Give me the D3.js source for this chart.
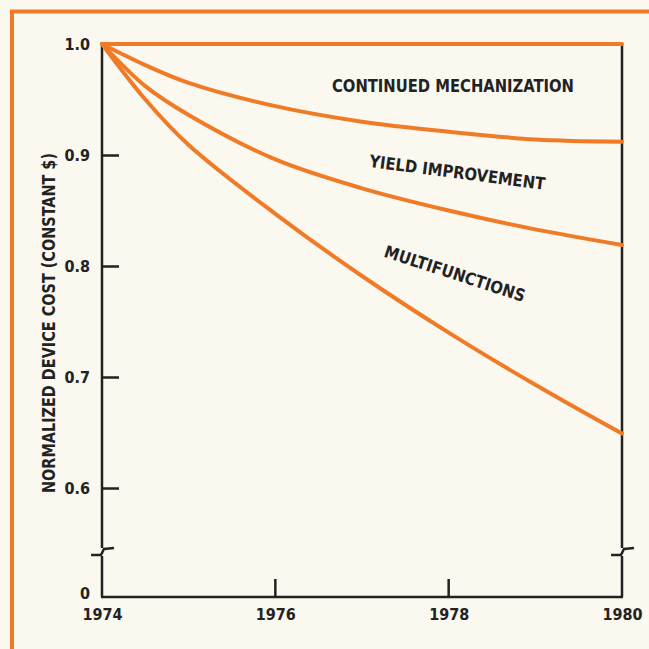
<!DOCTYPE html>
<meta charset="utf-8">
<style>
    body { margin: 0; background: #faf8ef; }
    text {
        font-family: "Liberation Sans Narrow", "DejaVu Sans Condensed", "Arial Narrow", sans-serif;
        font-weight: bold;
        fill: #222;
    }
    .curve { fill: none; stroke: #f07b27; stroke-width: 4px; stroke-linecap: round; }
    .ax { fill: none; stroke: #222; stroke-width: 2.5px; }
</style>
<svg width="649" height="649"></svg>
<script src="https://d3js.org/d3.v7.min.js"></script>
<script>

// values
var years = [1974, 1974.5, 1975, 1976, 1977, 1978, 1979, 1980];
var noChange       = [1.0, 1.0, 1.0, 1.0, 1.0, 1.0, 1.0, 1.0];
var mechanization  = [1.0, 0.981, 0.965, 0.944, 0.930, 0.921, 0.914, 0.912];
var yieldImprove   = [1.0, 0.962, 0.936, 0.896, 0.870, 0.850, 0.833, 0.819];
var multifunctions = [1.0, 0.950, 0.909, 0.847, 0.791, 0.740, 0.693, 0.649];

var xTicks = [1974, 1976, 1978, 1980];
var yTicks = [0.6, 0.7, 0.8, 0.9, 1.0];

var labelText  = ["CONTINUED MECHANIZATION", "YIELD IMPROVEMENT", "MULTIFUNCTIONS"];
var labelYear  = [1978.05, 1978.09, 1978.05];
var labelValue = [0.957, 0.879, 0.788];
var labelAngle = [0, 7.5, 18];
var labelWidth = [242, 177, 147];

var svg = d3.select("svg"),
    width = +svg.attr("width"),
    height = +svg.attr("height");

svg.append("rect")
    .attr("width", width)
    .attr("height", height)
    .attr("fill", "#faf8ef");

// orange frame, runs off the right and bottom edges
svg.append("rect")
    .attr("x", 12).attr("y", 11.5)
    .attr("width", 720).attr("height", 720)
    .attr("fill", "none")
    .attr("stroke", "#f07b27")
    .attr("stroke-width", 4);

var x = d3.scaleLinear().domain([1974, 1980]).range([102, 622]);
var y = d3.scaleLinear().domain([0.6, 1.0]).range([488, 44]);
var yZero = 597, yBreak = 552;

// axes (ticks only, lines drawn by hand for the breaks)
var yAxis = svg.append("g")
    .attr("transform", "translate(" + x(1974) + ",0)")
    .call(d3.axisLeft(y).tickValues(yTicks).tickSize(-17).tickPadding(12)
        .tickFormat(d3.format(".1f")));
yAxis.select(".domain").remove();
yAxis.selectAll("line").attr("stroke", "#222").attr("stroke-width", 2.5);
yAxis.selectAll("text").attr("font-size", 16).attr("dy", "0.36em").attr("fill", "#222");

var xAxis = svg.append("g")
    .attr("transform", "translate(0," + yZero + ")")
    .call(d3.axisBottom(x).tickValues(xTicks).tickSize(0).tickPadding(12)
        .tickFormat(d3.format("d")));
xAxis.select(".domain").remove();
xAxis.selectAll("text").attr("font-size", 16).attr("fill", "#222");

// inner x ticks (pointing up) only at the middle years
svg.append("g").selectAll("line")
    .data(xTicks.slice(1, 3))
    .enter().append("line")
    .attr("class", "ax")
    .attr("x1", function(d) { return x(d); })
    .attr("x2", function(d) { return x(d); })
    .attr("y1", yZero)
    .attr("y2", yZero - 18);

svg.append("text")
    .attr("x", x(1974) - 12)
    .attr("y", yZero - 4)
    .attr("dy", "0.36em")
    .attr("text-anchor", "end")
    .attr("font-size", 16)
    .text("0");

function brokenAxis(px) {
    svg.append("path").attr("class", "ax")
        .attr("d", "M" + px + "," + y(1.0) + "V" + (yBreak - 4));
    svg.append("path").attr("class", "ax")
        .attr("d", "M" + px + "," + (yBreak + 4) + "V" + yZero);
    svg.append("path").attr("class", "ax")
        .attr("stroke-width", 2.2)
        .attr("d", "M" + (px - 11) + "," + (yBreak + 3) +
                   "L" + (px - 1) + "," + (yBreak + 3) +
                   "L" + (px + 2) + "," + (yBreak - 3) +
                   "L" + (px + 12) + "," + (yBreak - 4));
}
brokenAxis(x(1974));
brokenAxis(x(1980));

svg.append("path").attr("class", "ax")
    .attr("d", "M" + (x(1974) - 1) + "," + yZero + "H" + (x(1980) + 1));

// curves
var line = d3.line()
    .x(function(d, i) { return x(years[i]); })
    .y(function(d) { return y(d); })
    .curve(d3.curveCatmullRom.alpha(0.5));

[noChange, mechanization, yieldImprove, multifunctions].forEach(function(s) {
    svg.append("path").attr("class", "curve").attr("d", line(s));
});

// curve labels
labelText.forEach(function(t, i) {
    var px = x(labelYear[i]), py = y(labelValue[i]);
    svg.append("text")
        .attr("transform", "translate(" + px + "," + py + ") rotate(" + labelAngle[i] + ")")
        .attr("text-anchor", "middle")
        .attr("font-size", 17)
        .attr("textLength", labelWidth[i])
        .attr("lengthAdjust", "spacingAndGlyphs")
        .text(t);
});

// y title
svg.append("text")
    .attr("transform", "translate(55,323) rotate(-90)")
    .attr("text-anchor", "middle")
    .attr("font-size", 17)
    .attr("textLength", 340)
    .attr("lengthAdjust", "spacingAndGlyphs")
    .text("NORMALIZED DEVICE COST (CONSTANT $)");

</script>
